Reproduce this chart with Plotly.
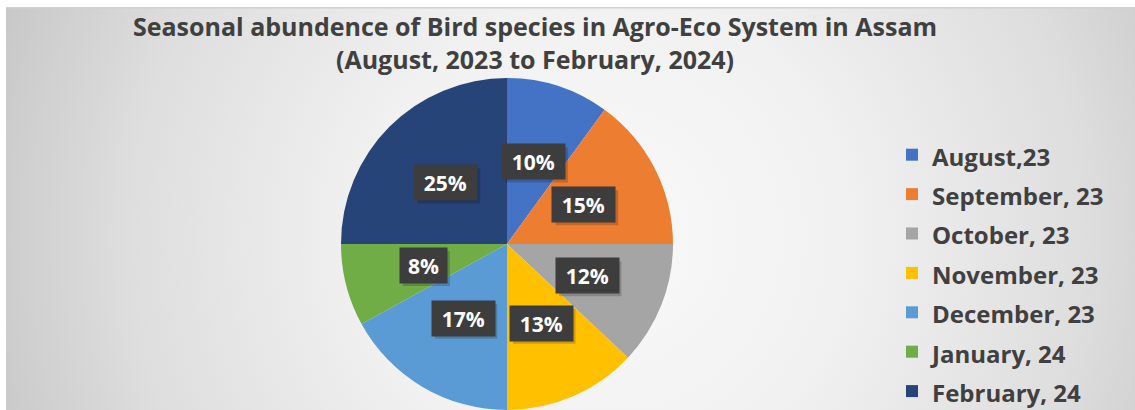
import math
import base64
import plotly.graph_objects as go

# ---- data ----
months = ["August,23", "September, 23", "October, 23", "November, 23",
          "December, 23", "January, 24", "February, 24"]
percent = [10, 15, 12, 13, 17, 8, 25]
colors = ["#4472C4", "#ED7D31", "#A5A5A5", "#FFC000", "#5B9BD5", "#70AD47", "#264478"]
title_lines = ["Seasonal abundence of Bird species in Agro-Eco System in Assam",
               "(August, 2023 to February, 2024)"]

W, H = 1135, 410
cx, cy, r = 507, 244, 166  # pie centre / radius in pixels

# ---- background gradient (chart area) ----
svg = (
    '<svg xmlns="http://www.w3.org/2000/svg" width="1129" height="403">'
    '<defs><radialGradient id="g" gradientUnits="userSpaceOnUse" cx="600" cy="230" r="680">'
    '<stop offset="0" stop-color="#f9f9f9"/>'
    '<stop offset="0.35" stop-color="#f1f1f1"/>'
    '<stop offset="0.7" stop-color="#dedede"/>'
    '<stop offset="1" stop-color="#c3c3c3"/>'
    '</radialGradient></defs>'
    '<rect x="0" y="0" width="1129" height="403" fill="url(#g)"/>'
    '<rect x="0" y="0" width="1129" height="1.5" fill="#cfcfcf"/>'
    '</svg>'
)
bg_src = "data:image/svg+xml;base64," + base64.b64encode(svg.encode()).decode()

fig = go.Figure()
fig.add_trace(go.Pie(
    labels=[f"<span style='font-size:24px'>{m}</span>" for m in months],
    values=percent,
    sort=False,
    direction="clockwise",
    rotation=0,
    marker=dict(colors=colors, line=dict(width=0)),
    textinfo="none",
    hovertemplate="%{label}: %{percent}<extra></extra>",
    domain=dict(x=[(cx - r) / W, (cx + r) / W], y=[1 - (cy + r) / H, 1 - (cy - r) / H]),
))

# ---- data labels: dark boxes placed at half radius along the slice mid-angle ----
annotations = []
shapes = []
total = sum(percent)
cum = 0
for p in percent:
    mid = (cum + p / 2) / total * 2 * math.pi
    cum += p
    px = cx + 0.52 * r * math.sin(mid)
    py = cy - 0.52 * r * math.cos(mid)
    txt = f"{round(p / total * 100)}%"
    bw = 16 + 15.5 * len(txt)
    bh = 35
    shapes.append(dict(type="rect", xref="paper", yref="paper",
                       x0=(px - bw / 2 + 3) / W, x1=(px + bw / 2 + 3) / W,
                       y0=1 - (py + bh / 2 + 3) / H, y1=1 - (py - bh / 2 + 3) / H,
                       fillcolor="rgba(0,0,0,0.18)", line=dict(width=0), layer="above"))
    annotations.append(dict(
        x=px / W, y=1 - py / H, xref="paper", yref="paper",
        xanchor="center", yanchor="middle",
        text=f"<b>{txt}</b>", showarrow=False,
        font=dict(family="Open Sans", size=21, color="white"),
        bgcolor="#3d3d3d", width=bw, height=bh, align="center", valign="middle",
        borderpad=0,
    ))

fig.update_layout(
    width=W, height=H,
    margin=dict(l=0, r=0, t=0, b=0, autoexpand=False),
    paper_bgcolor="white",
    plot_bgcolor="rgba(0,0,0,0)",
    images=[dict(source=bg_src, xref="paper", yref="paper", x=6 / W, y=1 - 7 / H,
                 sizex=(W - 6) / W, sizey=(H - 7) / H, xanchor="left", yanchor="top",
                 sizing="stretch", layer="below")],
    title=dict(text="<br>".join(title_lines), x=535 / W, xanchor="center",
               y=1 - 36 / H, yanchor="top",
               font=dict(family="Open Sans", size=25, color="#404040", weight="bold")),
    legend=dict(x=892 / W, xanchor="left", y=1 - 130 / H, yanchor="top",
                bgcolor="rgba(0,0,0,0)",
                font=dict(family="Open Sans", size=28, color="#404040", weight="bold")),
    annotations=annotations,
    shapes=shapes,
)

fig.write_html("out.html", config={"displayModeBar": False},
               post_script="document.body.style.margin='0px';")
